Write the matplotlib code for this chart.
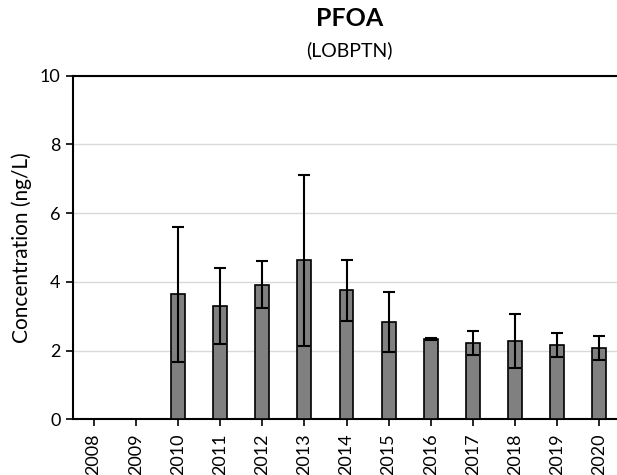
import matplotlib
matplotlib.use("Agg")
import matplotlib.pyplot as plt
import numpy as np

years = ["2008", "2009", "2010", "2011", "2012", "2013", "2014",
         "2015", "2016", "2017", "2018", "2019", "2020"]
means = [np.nan, np.nan, 3.64, 3.30, 3.92, 4.63, 3.75, 2.84, 2.33, 2.22, 2.28, 2.17, 2.07]
errs = [np.nan, np.nan, 1.96, 1.10, 0.68, 2.49, 0.88, 0.87, 0.03, 0.34, 0.78, 0.35, 0.34]

plt.rcParams['font.family'] = ['Lato', 'DejaVu Sans']

fig = plt.figure(figsize=6.17 * np.array([1, 475 / 617]), dpi=100)
ax = fig.add_axes([72.5 / 617, 1 - 419.3 / 475, (620.5 - 72.5) / 617, (419.3 - 75.7) / 475])

x = np.arange(len(years))
m = np.nan_to_num(np.array(means, dtype=float))
ax.bar(x, m, width=0.33, color="#808080", edgecolor="black", linewidth=1.2, zorder=3)
ax.errorbar(x, m, yerr=np.array(errs, dtype=float), fmt="none", ecolor="black",
            elinewidth=1.5, capsize=4, capthick=1.5, zorder=4)

ax.set_xlim(-0.5, len(years) - 0.5)
ax.set_ylim(0, 10)
ax.set_yticks([0, 2, 4, 6, 8, 10])
ax.set_xticks(x)
ax.set_xticklabels(years, rotation=90)
ax.tick_params(axis="both", direction="out", length=5, width=1.2, labelsize=13, colors="black")
ax.tick_params(axis="x", pad=5)
ax.yaxis.grid(True, color="#d9d9d9", linewidth=1.0, zorder=0)
ax.set_axisbelow(True)
for s in ["left", "bottom", "top"]:
    ax.spines[s].set_linewidth(1.5)
    ax.spines[s].set_color("black")
ax.spines["right"].set_visible(False)
ax.set_ylabel("Concentration (ng/L)", fontsize=15, labelpad=6)

fig.text(0.567, 1 - 18 / 475, "PFOA", ha="center", va="center", fontsize=18, fontweight="bold")
fig.text(0.567, 1 - 50 / 475, "(LOBPTN)", ha="center", va="center", fontsize=14)

fig.savefig("out.png", dpi=100)
